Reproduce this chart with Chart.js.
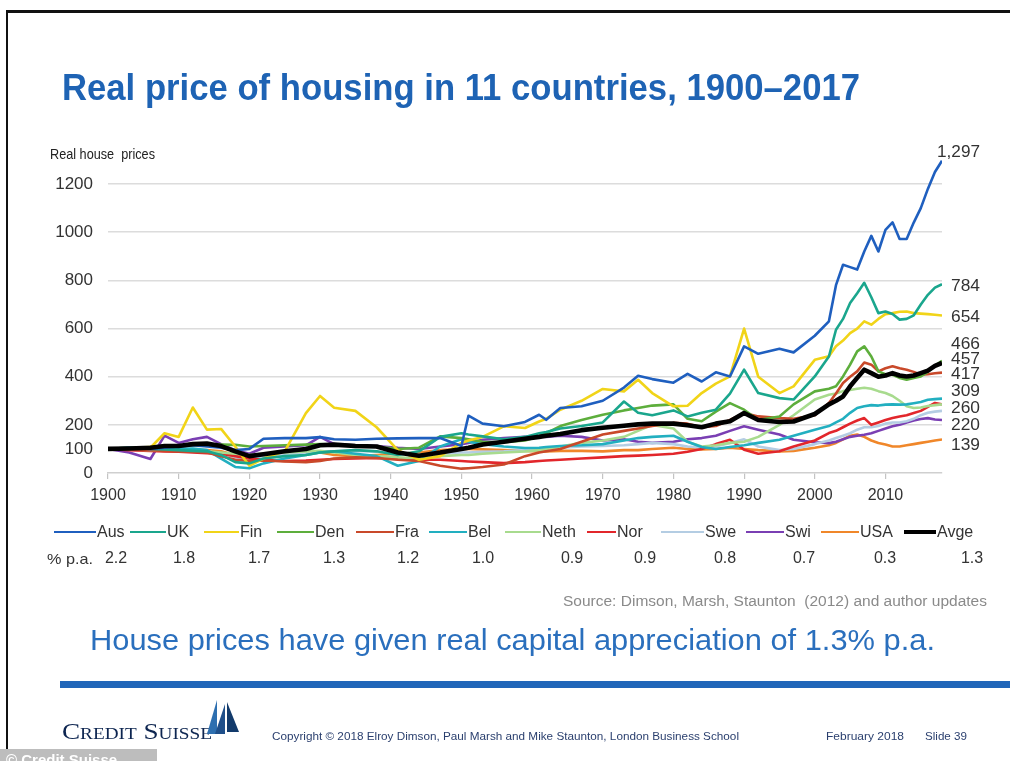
<!DOCTYPE html>
<html>
<head>
<meta charset="utf-8">
<script src="https://cdn.jsdelivr.net/npm/chart.js"></script>
<style>
html,body{margin:0;padding:0;background:#fff;}
#page{position:relative;width:1010px;height:761px;overflow:hidden;background:#fff;}
#c{position:absolute;left:0;top:0;}
.t{position:absolute;white-space:pre;line-height:1;}
</style>
</head>
<body>
<div id="page"><canvas id="c" width="1010" height="761"></canvas></div>
<script>
// ---------------- data ----------------
const years = [1900,1903,1906,1908,1910,1912,1914,1916,1918,1920,
  1922,1925,1928,1930,1932,1935,1938,1941,1944,1947,
  1950,1951,1953,1956,1959,1961,1962,1964,1967,1970,
  1973,1975,1977,1980,1982,1984,1986,1988,1990,1992,
  1995,1997,2000,2002,2003,2004,2005,2006,2007,2008,
  2009,2010,2011,2012,2013,2014,2015,2016,2017,2018];

const aus = [100,105,100,105,110,115,110,105,95,100,
  142,145,145,149,140,138,142,144,145,145,
  112,238,205,194,212,242,221,270,277,300,
  355,404,390,375,412,380,418,401,526,495,
  516,501,570,630,780,865,855,845,920,985,
  920,1010,1041,972,972,1040,1100,1180,1250,1297];
const uk = [100,105,100,98,95,92,90,75,45,40,
  60,70,75,85,90,95,90,75,90,150,
  165,160,152,140,150,165,170,185,195,210,
  297,250,240,260,235,250,263,330,429,332,
  311,305,401,484,595,640,706,747,790,730,
  664,671,660,637,640,655,700,740,770,784];
const fin = [100,100,105,165,150,272,180,183,110,30,
  60,90,249,320,271,258,190,95,55,70,
  125,135,150,194,187,214,225,263,300,349,
  339,387,332,277,279,332,371,401,600,400,
  332,360,470,485,526,550,581,600,630,616,
  640,660,664,670,671,664,662,660,657,654];
const den = [100,105,108,110,112,115,118,118,117,110,
  112,115,118,120,118,115,110,100,105,152,
  145,140,130,128,135,152,165,195,220,242,
  260,270,280,285,225,215,255,290,263,220,
  235,285,339,350,360,401,450,505,526,484,
  422,410,408,395,387,395,401,420,445,466];
const fra = [100,98,95,92,90,88,85,70,55,50,
  52,48,45,50,60,65,62,55,50,30,
  18,20,25,35,70,85,90,100,130,160,
  175,185,195,208,205,190,195,220,249,235,
  228,225,240,291,330,374,400,422,459,450,
  422,435,443,435,429,420,408,410,414,417];
const bel = [100,102,100,98,100,102,95,60,25,20,
  40,60,75,85,90,80,70,30,50,110,
  140,130,120,110,104,105,108,112,115,120,
  135,145,150,155,130,108,100,108,115,125,
  138,155,180,195,210,225,250,270,277,282,
  280,284,285,284,285,290,295,304,307,309];
const neth = [100,98,95,95,93,92,90,85,80,75,
  80,85,90,92,85,75,70,65,60,70,
  75,75,80,85,90,95,100,110,125,135,
  150,175,200,185,130,110,115,125,130,150,
  200,240,305,325,330,340,345,350,354,350,
  340,332,320,300,277,270,272,278,282,285];
const nor = [100,95,92,90,88,85,82,80,70,60,
  55,50,52,55,58,60,62,58,55,55,
  50,48,45,41,45,50,52,55,60,65,
  70,72,75,80,88,100,120,138,97,80,
  90,110,135,166,175,190,205,218,228,200,
  210,220,228,235,240,249,258,275,291,285];
const swe = [100,100,98,97,95,93,90,80,65,60,
  70,80,85,88,90,92,90,80,75,80,
  85,85,88,90,95,100,102,105,110,112,
  115,120,125,120,110,105,110,125,140,110,
  95,100,120,135,145,155,165,180,190,190,
  195,205,210,210,215,225,240,250,255,258];
const swi = [100,85,58,155,125,140,150,120,95,80,
  105,110,115,150,120,115,112,105,100,110,
  120,125,138,145,150,152,150,155,150,135,
  140,130,125,130,140,145,155,175,194,180,
  160,138,128,124,130,140,150,155,159,165,
  175,185,194,200,210,218,224,228,222,220];
const usa = [100,105,108,100,98,96,95,90,75,65,
  75,85,88,85,75,70,75,80,85,95,
  100,100,98,95,92,90,90,92,92,90,
  95,95,100,105,100,98,100,105,100,95,
  90,92,105,115,125,140,155,160,150,135,
  125,118,110,110,115,120,125,130,135,139];
const avge = [100,102,105,112,112,120,122,112,90,70,
  78,90,100,115,118,112,110,85,72,85,
  100,105,118,130,142,150,155,162,178,188,
  196,202,205,205,198,190,205,215,249,220,
  212,214,245,285,300,318,360,395,429,415,
  400,405,415,405,401,405,415,425,445,457];

const seriesNames = ['Aus','UK','Fin','Den','Fra','Bel','Neth','Nor','Swe','Swi','USA','Avge'];
const seriesValues = [aus,uk,fin,den,fra,bel,neth,nor,swe,swi,usa,avge];
const pctPA = ['2.2','1.8','1.7','1.3','1.2','1.0','0.9','0.9','0.8','0.7','0.3','1.3'];
const xTicks = [1900,1910,1920,1930,1940,1950,1960,1970,1980,1990,2000,2010];
const yTicks = [0,100,200,400,600,800,1000,1200];
const endLabels = ['1,297','784','654','466','457','417','309','260','220','139'];

// ---------------- styles ----------------
const colors = ['#1f5fbf','#1aa68d','#f1d418','#5dae3c','#c9492a','#22afc0',
  '#a8db8e','#e2262b','#b4cde3','#7a3fb3','#f0872a','#000000'];
const FONT = "'Liberation Sans', Arial, sans-serif";

const datasets = seriesNames.map((n,i)=>({
  label:n,
  data: years.map((yr,j)=>({x:yr, y:seriesValues[i][j]})),
  borderColor: colors[i],
  backgroundColor: colors[i],
  borderWidth: n==='Avge' ? 4.6 : 2.6,
  pointRadius:0,
  tension:0,
  fill:false,
  borderJoinStyle:'round',
  order: n==='Avge' ? -1 : i
}));

new Chart(document.getElementById('c'), {
  type:'line',
  data:{datasets},
  options:{
    responsive:false,
    animation:false,
    devicePixelRatio:1,
    layout:{padding:{left:0,top:160,right:68,bottom:0}},
    plugins:{legend:{display:false},tooltip:{enabled:false}},
    scales:{
      x:{
        type:'linear', min:1900, max:2018,
        afterBuildTicks:s=>{s.ticks = xTicks.map(v=>({value:v}));},
        afterFit:s=>{s.height = 288;},
        ticks:{callback:v=>String(v), font:{family:FONT,size:16}, color:'#333', padding:7, maxRotation:0, autoSkip:false},
        grid:{drawOnChartArea:false, drawTicks:true, tickLength:6, color:'#c4c4c4', lineWidth:1.2},
        border:{display:true, color:'#cfcfcf', width:1.5}
      },
      y:{
        min:0, max:1300,
        afterBuildTicks:s=>{s.ticks = yTicks.map(v=>({value:v}));},
        afterFit:s=>{s.width = 108;},
        ticks:{callback:v=>String(v), font:{family:FONT,size:17}, color:'#333', padding:15, autoSkip:false},
        grid:{drawTicks:false, lineWidth:1.5,
          color:ctx=>(ctx.tick && (ctx.tick.value===0||ctx.tick.value===100)) ? 'rgba(0,0,0,0)' : '#dcdcdc'},
        border:{display:false}
      }
    }
  }
});

// ---------------- page text ----------------
const page = document.getElementById('page');
function addText(txt, o){
  const d = document.createElement('div');
  d.className='t';
  d.textContent = txt;
  d.style.fontFamily = o.family || FONT;
  d.style.fontSize = o.size+'px';
  d.style.fontWeight = o.weight || 'normal';
  d.style.color = o.color || '#333';
  if (o.variant) d.style.fontVariant = o.variant;
  page.appendChild(d);
  const r = d.getBoundingClientRect();
  const k = o.w ? o.w / r.width : 1;
  const w = r.width * k;
  let left = o.x;
  if (o.align==='right') left = o.x - w;
  if (o.align==='center') left = o.x - w/2;
  d.style.left = left+'px';
  d.style.top = (o.y - r.height/2)+'px';
  d.style.transformOrigin = 'left center';
  d.style.transform = 'scaleX('+k+')';
  return d;
}
function addBox(x,y,w,h,bg){
  const d=document.createElement('div');
  d.style.cssText='position:absolute;left:'+x+'px;top:'+y+'px;width:'+w+'px;height:'+h+'px;background:'+bg+';';
  page.appendChild(d); return d;
}

// slide frame
addBox(6,10,1004,3,'#111');
addBox(6,10,2,751,'#111');

addText('Real price of housing in 11 countries, 1900\u20132017',{x:62,y:88,size:36,weight:'bold',color:'#1e63b4',w:798});
addText('Real house  prices',{x:50,y:153,size:15,color:'#222',w:105});

// end-of-series value labels
const endPos = [[937,152,43],[951,286,29],[951,317,29],[951,344,29],[951,359,29],[951,374,29],[951,391,29],[951,408,29],[951,425,29],[951,445,29]];
endLabels.forEach((t,i)=>addText(t,{x:endPos[i][0],y:endPos[i][1],size:16,color:'#333',w:endPos[i][2]}));

// legend and % p.a. row
const legTextX = [97,167,240,315,395,468,542,617,705,785,860,937];
const legLineLen = [42,36,35,37,38,38,36,29,43,38,38,32];
const pctCenter = [116,184,259,334,408,483,572,645,725,804,885,972];
seriesNames.forEach((n,i)=>{
  const lw = n==='Avge'?3.5:2.5;
  addBox(legTextX[i]-legLineLen[i]-1, 532-lw/2, legLineLen[i], lw, colors[i]);
  addText(n,{x:legTextX[i],y:532,size:16,color:'#333'});
  addText(pctPA[i],{x:pctCenter[i],y:558,size:16,color:'#333',align:'center'});
});
addText('% p.a.',{x:47,y:558,size:15,color:'#333',w:46});

addText('Source: Dimson, Marsh, Staunton  (2012) and author updates',{x:987,y:601,size:14,color:'#8a8a8a',w:424,align:'right'});
addText('House prices have given real capital appreciation of 1.3% p.a.',{x:90,y:640,size:30,color:'#2a6fbd',w:845});
addBox(60,681,950,7,'#2166b9');

// footer
addText('Credit Suisse',{x:62,y:731,size:24,family:"'Liberation Serif','DejaVu Serif',serif",variant:'small-caps',color:'#0d2550',w:150});
const svgNS='http://www.w3.org/2000/svg';
const svg=document.createElementNS(svgNS,'svg');
svg.setAttribute('width','42');svg.setAttribute('height','42');
svg.style.cssText='position:absolute;left:203px;top:696px;';
svg.innerHTML='<polygon points="14,4 14,38 4,38" fill="#2d6fb0"/><polygon points="22,8 22,38 12,38" fill="#1f4f8a"/><polygon points="24,6 36,36 24,36" fill="#123a6b"/>';
page.appendChild(svg);
addText('Copyright \u00a9 2018 Elroy Dimson, Paul Marsh and Mike Staunton, London Business School',{x:272,y:736,size:11,color:'#2a3f6e',w:467});
addText('February 2018',{x:826,y:736,size:11,color:'#2a3f6e',w:78});
addText('Slide 39',{x:925,y:736,size:11,color:'#2a3f6e',w:42});

// watermark tab at bottom-left
addBox(0,749,157,14,'#bdbdbd');
addText('\u00a9 Credit Suisse',{x:6,y:759,size:15,color:'#ffffff',weight:'bold'});
</script>
</body>
</html>
